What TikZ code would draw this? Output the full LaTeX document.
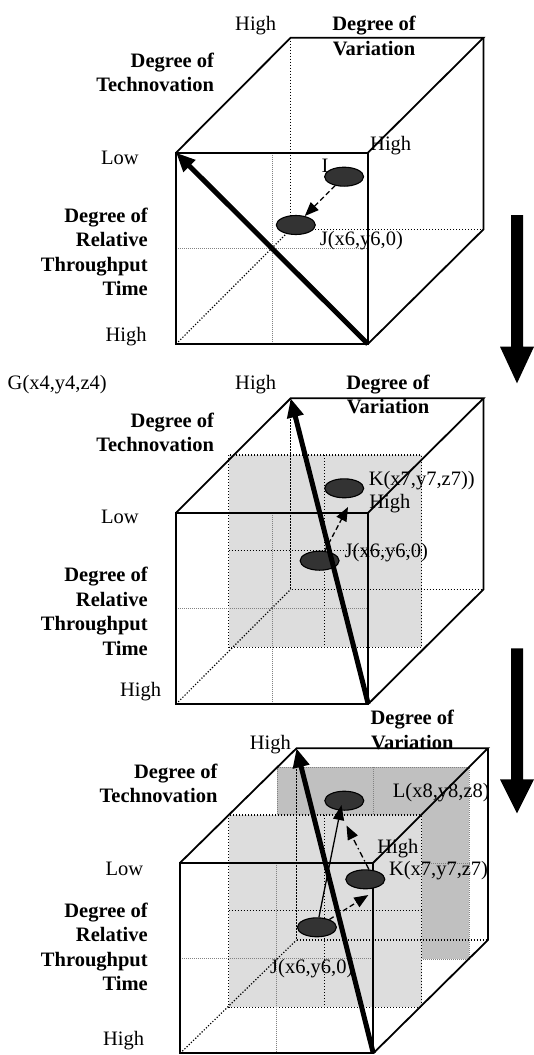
\documentclass[tikz,border=0pt]{standalone}
\usepackage{fontspec}
\setmainfont{Liberation Serif}
\usetikzlibrary{arrows.meta,shapes.geometric}
\definecolor{ellfill}{RGB}{51,51,51}
\definecolor{lightshade}{RGB}{221,221,221}
\definecolor{darkshade}{RGB}{192,192,192}
\definecolor{midgray}{RGB}{130,130,130}
\begin{document}
\begin{tikzpicture}[x=1pt,y=-1pt,
  edge/.style={line width=1.8pt, line join=miter},
  hidden/.style={line width=1.2pt, dash pattern=on 1.2pt off 1.8pt},
  faint/.style={line width=0.9pt, midgray, dash pattern=on 1pt off 1pt},
  ell/.style={ellipse, draw, line width=1.1pt, fill=ellfill, minimum width=39pt, minimum height=19pt, inner sep=0pt},
  lbl/.style={font=\fontsize{20.5}{24.5}\selectfont, inner sep=0pt},
  blbl/.style={font=\fontsize{20.5}{24.5}\selectfont\bfseries, inner sep=0pt},
  bigarrow/.style={line width=5pt, -{Triangle[length=19pt,width=16pt]}},
  dasharrow/.style={line width=1.3pt, dash pattern=on 5pt off 3pt, -{Triangle[length=14pt,width=11pt]}},
  solidarrow/.style={line width=1.3pt, -{Triangle[length=15pt,width=11pt]}},
  dotdasharrow/.style={line width=1.3pt, dash pattern=on 6pt off 3pt on 1.5pt off 3pt, -{Triangle[length=14pt,width=11pt]}}
]
\useasboundingbox (0,0) rectangle (533,1055);

% ================= cube 1
\coordinate (a1) at (176.1,152.7);
\coordinate (b1) at (367.9,152.7);
\coordinate (c1) at (367.9,344);
\coordinate (d1) at (176.1,344);
\coordinate (e1) at (290.7,37.7);
\coordinate (f1) at (483.5,37.7);
\coordinate (g1) at (483.5,229.3);
\coordinate (h1) at (290.7,229.3);
\draw[faint] (272,152.7) -- (272,344);
\draw[faint] (176.1,248.3) -- (367.9,248.3);
\draw[hidden] (e1) -- (h1) -- (g1);
\draw[hidden] (d1) -- (h1);
\draw[edge] (a1) -- (b1) -- (c1) -- (d1) -- cycle;
\draw[edge] (a1) -- (e1) -- (f1) -- (b1);
\draw[edge] (f1) -- (g1) -- (c1);
\node[lbl, anchor=base west] (tI1) at (321.3,172.7) {I};
\node[ell] (I1) at (344.1,176.7) {};
\node[ell] (J1) at (295.8,225) {};
\draw[dasharrow] (I1) -- (J1);
\node[lbl, anchor=base] (hi1a) at (255.7,30) {High};
\node[blbl, align=center, anchor=north] (var1) at (374,16.2) {Degree of\\Variation};
\node[blbl, align=right, anchor=north east] (tec1) at (214.2,52.8) {Degree of\\Technovation};
\node[lbl, anchor=base] (low1) at (120,164) {Low};
\node[lbl, anchor=base] (hi1b) at (390.7,150) {High};
\node[lbl, anchor=base west] (tJ1) at (319.6,245) {J(x6,y6,0)};
\node[blbl, align=right, anchor=north east] (rel1) at (147.9,207.8) {Degree of\\Relative\\Throughput\\Time};
\node[lbl, anchor=base] (hi1c) at (126,341.7) {High};
\draw[bigarrow] (c1) -- (a1);

% down arrow 1
\fill (511,215) -- (523,215) -- (523,346.7) -- (534,346.7) -- (517,383.3) -- (500,346.7) -- (511,346.7) -- cycle;

% ================= cube 2
\coordinate (a2) at (176.1,512.7);
\coordinate (b2) at (368.2,512.7);
\coordinate (c2) at (368.2,704);
\coordinate (d2) at (176.1,704);
\coordinate (e2) at (290.7,398.3);
\coordinate (f2) at (483.5,398.3);
\coordinate (g2) at (483.5,589.3);
\coordinate (h2) at (290.7,589.3);
\fill[lightshade] (228.5,455) rectangle (421.6,647.3);
\draw[hidden] (228.5,455) rectangle (421.6,647.3);
\draw[hidden] (324.7,455) -- (324.7,647.3);
\draw[hidden] (228.5,550.7) -- (421.6,550.7);
\draw[faint] (272.2,512.7) -- (272.2,704);
\draw[faint] (176.1,608.3) -- (368.2,608.3);
\draw[hidden] (e2) -- (h2) -- (g2);
\draw[hidden] (d2) -- (h2);
\draw[edge] (a2) -- (b2) -- (c2) -- (d2) -- cycle;
\draw[edge] (a2) -- (e2) -- (f2) -- (b2);
\draw[edge] (f2) -- (g2) -- (c2);
\node[ell] (K2) at (344.2,488.3) {};
\node[ell] (J2) at (319.6,560.7) {};
\coordinate (k2tip) at (348,507);
\draw[dasharrow] (J2) -- (k2tip);
\node[lbl, anchor=base west] (G2) at (7.5,389.3) {G(x4,y4,z4)};
\node[lbl, anchor=base] (hi2a) at (255.7,389.3) {High};
\node[blbl, align=center, anchor=north] (var2) at (388,374.5) {Degree of\\Variation};
\node[blbl, align=right, anchor=north east] (tec2) at (214.2,412.8) {Degree of\\Technovation};
\node[lbl, anchor=base] (low2) at (120,523.3) {Low};
\node[lbl, anchor=base west] (tK2) at (368.6,485) {K(x7,y7,z7))};
\node[lbl, anchor=base] (hi2b) at (389.8,508.3) {High};
\node[lbl, anchor=base west] (tJ2) at (344.5,557.3) {J(x6,y6,0)};
\node[blbl, align=right, anchor=north east] (rel2) at (147.9,567.2) {Degree of\\Relative\\Throughput\\Time};
\node[lbl, anchor=base] (hi2c) at (140.6,696) {High};
\draw[bigarrow] (c2) -- (e2);

% down arrow 2
\fill (511,648.3) -- (523,648.3) -- (523,779.3) -- (534,779.3) -- (517,813.3) -- (500,779.3) -- (511,779.3) -- cycle;

% ================= cube 3
\coordinate (a3) at (180.2,862.7);
\coordinate (b3) at (373.3,862.7);
\coordinate (c3) at (373.3,1053.3);
\coordinate (d3) at (180.2,1053.3);
\coordinate (e3) at (296.5,748.3);
\coordinate (f3) at (487.9,748.3);
\coordinate (g3) at (487.9,940);
\coordinate (h3) at (296.5,940);
\fill[darkshade] (277.1,767.3) rectangle (469.2,959.3);
\draw[faint] (277.1,767.3) rectangle (469.2,959.3);
\draw[faint] (373.3,767.3) -- (373.3,959.3);
\draw[faint] (277.1,863.3) -- (469.2,863.3);
\fill[lightshade] (228.5,815) rectangle (421.6,1007.3);
\draw[hidden] (228.5,815) rectangle (421.6,1007.3);
\draw[hidden] (324.7,815) -- (324.7,1007.3);
\draw[hidden] (228.5,910.7) -- (421.6,910.7);
\draw[faint] (276.8,862.7) -- (276.8,1053.3);
\draw[faint] (180.2,958) -- (373.3,958);
\draw[hidden] (e3) -- (h3) -- (g3);
\draw[hidden] (d3) -- (h3);
\draw[edge] (a3) -- (b3) -- (c3) -- (d3) -- cycle;
\draw[edge] (a3) -- (e3) -- (f3) -- (b3);
\draw[edge] (f3) -- (g3) -- (c3);
\node[ell] (L3) at (344.3,800.7) {};
\node[ell] (K3) at (365.3,879.3) {};
\node[ell] (J3) at (316.9,927.3) {};
\coordinate (l3tip) at (341.5,805);
\coordinate (l3tipb) at (346.5,825.5);
\coordinate (k3tip) at (368.3,895);
\draw[solidarrow] (J3) -- (l3tip);
\draw[dotdasharrow] (K3.70) -- (l3tipb);
\draw[dasharrow] (J3) -- (k3tip);
\node[blbl, align=center, anchor=north] (var3) at (412.3,710.2) {Degree of\\Variation};
\node[lbl, anchor=base] (hi3a) at (270.3,749.3) {High};
\node[blbl, align=right, anchor=north east] (tec3) at (217.6,763.5) {Degree of\\Technovation};
\node[lbl, anchor=base] (low3) at (124.4,875) {Low};
\node[lbl, anchor=base west] (tL3) at (392.7,797) {L(x8,y8,z8)};
\node[lbl, anchor=base] (hi3b) at (397.8,853.3) {High};
\node[lbl, anchor=base west] (tK3) at (388.8,875) {K(x7,y7,z7)};
\node[lbl, anchor=base west] (tJ3) at (270,973.3) {J(x6,y6,0)};
\node[blbl, align=right, anchor=north east] (rel3) at (147.9,902.8) {Degree of\\Relative\\Throughput\\Time};
\node[lbl, anchor=base] (hi3c) at (123.6,1045) {High};
\draw[bigarrow] (c3) -- (e3);
\end{tikzpicture}
\end{document}
